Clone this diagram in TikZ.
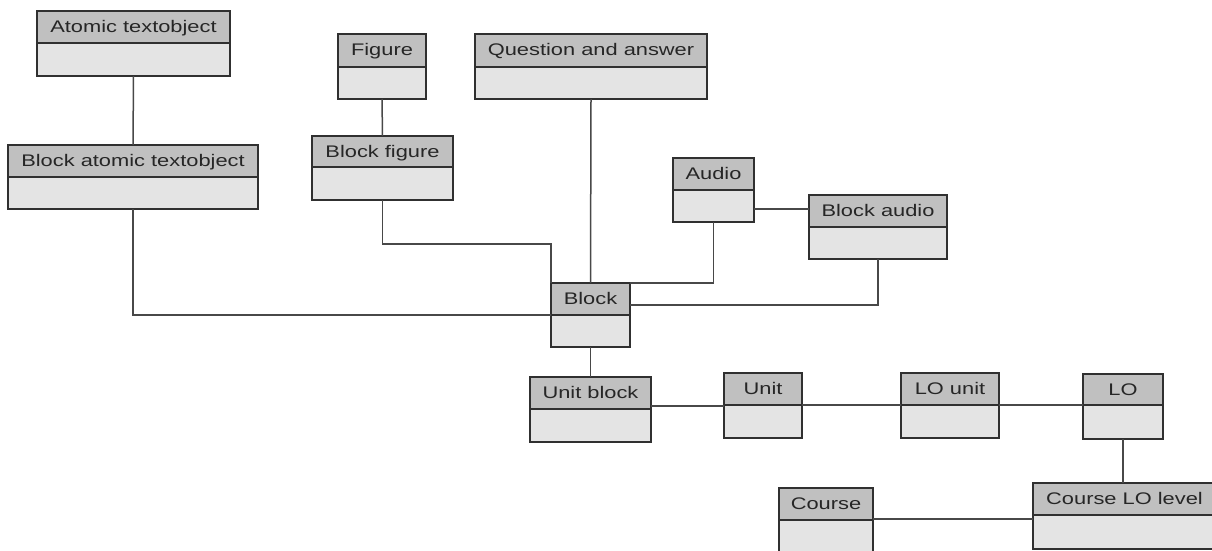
\documentclass[tikz,border=0pt]{standalone}
\usepackage{fontspec}
\newfontfamily\classfont{Liberation Sans}[FakeStretch=1.3]
\usetikzlibrary{calc}

\definecolor{hdrgray}{RGB}{192,192,192}
\definecolor{bodygray}{RGB}{228,228,228}
\definecolor{edgegray}{RGB}{48,48,48}
\definecolor{linkgray}{RGB}{72,72,72}

\tikzset{
  classbox/.style={rectangle, draw=edgegray, line width=1.8pt, fill=bodygray,
                   inner sep=0pt, outer sep=0pt},
  classhead/.style={draw=edgegray, line width=1.8pt, fill=hdrgray},
  classname/.style={font=\classfont\fontsize{16.8}{20}\selectfont,
                    text=black!85, inner sep=0pt, anchor=base},
  link/.style={draw=linkgray, line width=1.5pt},
}

% \umlclass{name}{left}{top}{right}{bottom}{header bottom}{title}
\newcommand{\umlclass}[7]{%
  \node[classbox, minimum width={(#4-#2)*1pt}, minimum height={(#5-#3)*1pt}]
       (#1) at ({(#2+#4)/2},{(#3+#5)/2}) {};
  \draw[classhead] (#1.north west) rectangle (#1.east |- 0,#6);
  \node[classname] (#1-name) at ({(#2+#4)/2},{(#3+#6)/2+5.5}) {#7};
}

\begin{document}
\begin{tikzpicture}[x=1pt,y=-1pt]
  \useasboundingbox (0,0) rectangle (1212,551);
  \fill[white] (0,0) rectangle (1212,551);
  \clip (0,0) rectangle (1212,551);

  % classes
  \umlclass{ato}{37}{11}{230}{76}{43}{Atomic textobject}
  \umlclass{fig}{338}{34}{426}{99}{67}{Figure}
  \umlclass{qa}{475}{34}{707}{99}{67}{Question and answer}
  \umlclass{bato}{8}{145}{258}{209}{177}{Block atomic textobject}
  \umlclass{bfig}{312}{136}{453}{200}{167}{Block figure}
  \umlclass{aud}{673}{158}{754}{222}{190}{Audio}
  \umlclass{baud}{809}{195}{947}{259}{227}{Block audio}
  \umlclass{blk}{551}{283}{630}{347}{315}{Block}
  \umlclass{ublk}{530}{377}{651}{442}{409}{Unit block}
  \umlclass{unit}{724}{373}{802}{438}{405}{Unit}
  \umlclass{lou}{901}{373}{999}{438}{405}{LO unit}
  \umlclass{lo}{1083}{374}{1163}{439}{405}{LO}
  \umlclass{crs}{779}{488}{873}{553}{520}{Course}
  \umlclass{clo}{1033}{483}{1216}{549}{515}{Course LO level}

  % associations
  \draw[link] (ato.south) -- (bato.north);
  \draw[link] (fig.south) -- (bfig.north);
  \draw[link] (bato.south) |- (blk.west);
  \draw[link] (bfig.south) -- (bfig.south |- 0,244) -| (blk.north west);
  \draw[link] (qa.south) -- (blk.north);
  \draw[link] (aud.south) |- (blk.north east);
  \draw[link] (aud.east |- 0,209) -- (baud.west |- 0,209);
  \draw[link] (baud.south) |- (blk.east |- 0,305);
  \draw[link] (blk.south) -- (ublk.north);
  \draw[link] (ublk.east |- 0,406) -- (unit.west |- 0,406);
  \draw[link] (unit.east |- 0,405) -- (lou.west |- 0,405);
  \draw[link] (lou.east |- 0,405) -- (lo.west |- 0,405);
  \draw[link] (lo.south) -- (clo.north -| lo.south);
  \draw[link] (crs.east |- 0,519) -- (clo.west |- 0,519);
\end{tikzpicture}
\end{document}
